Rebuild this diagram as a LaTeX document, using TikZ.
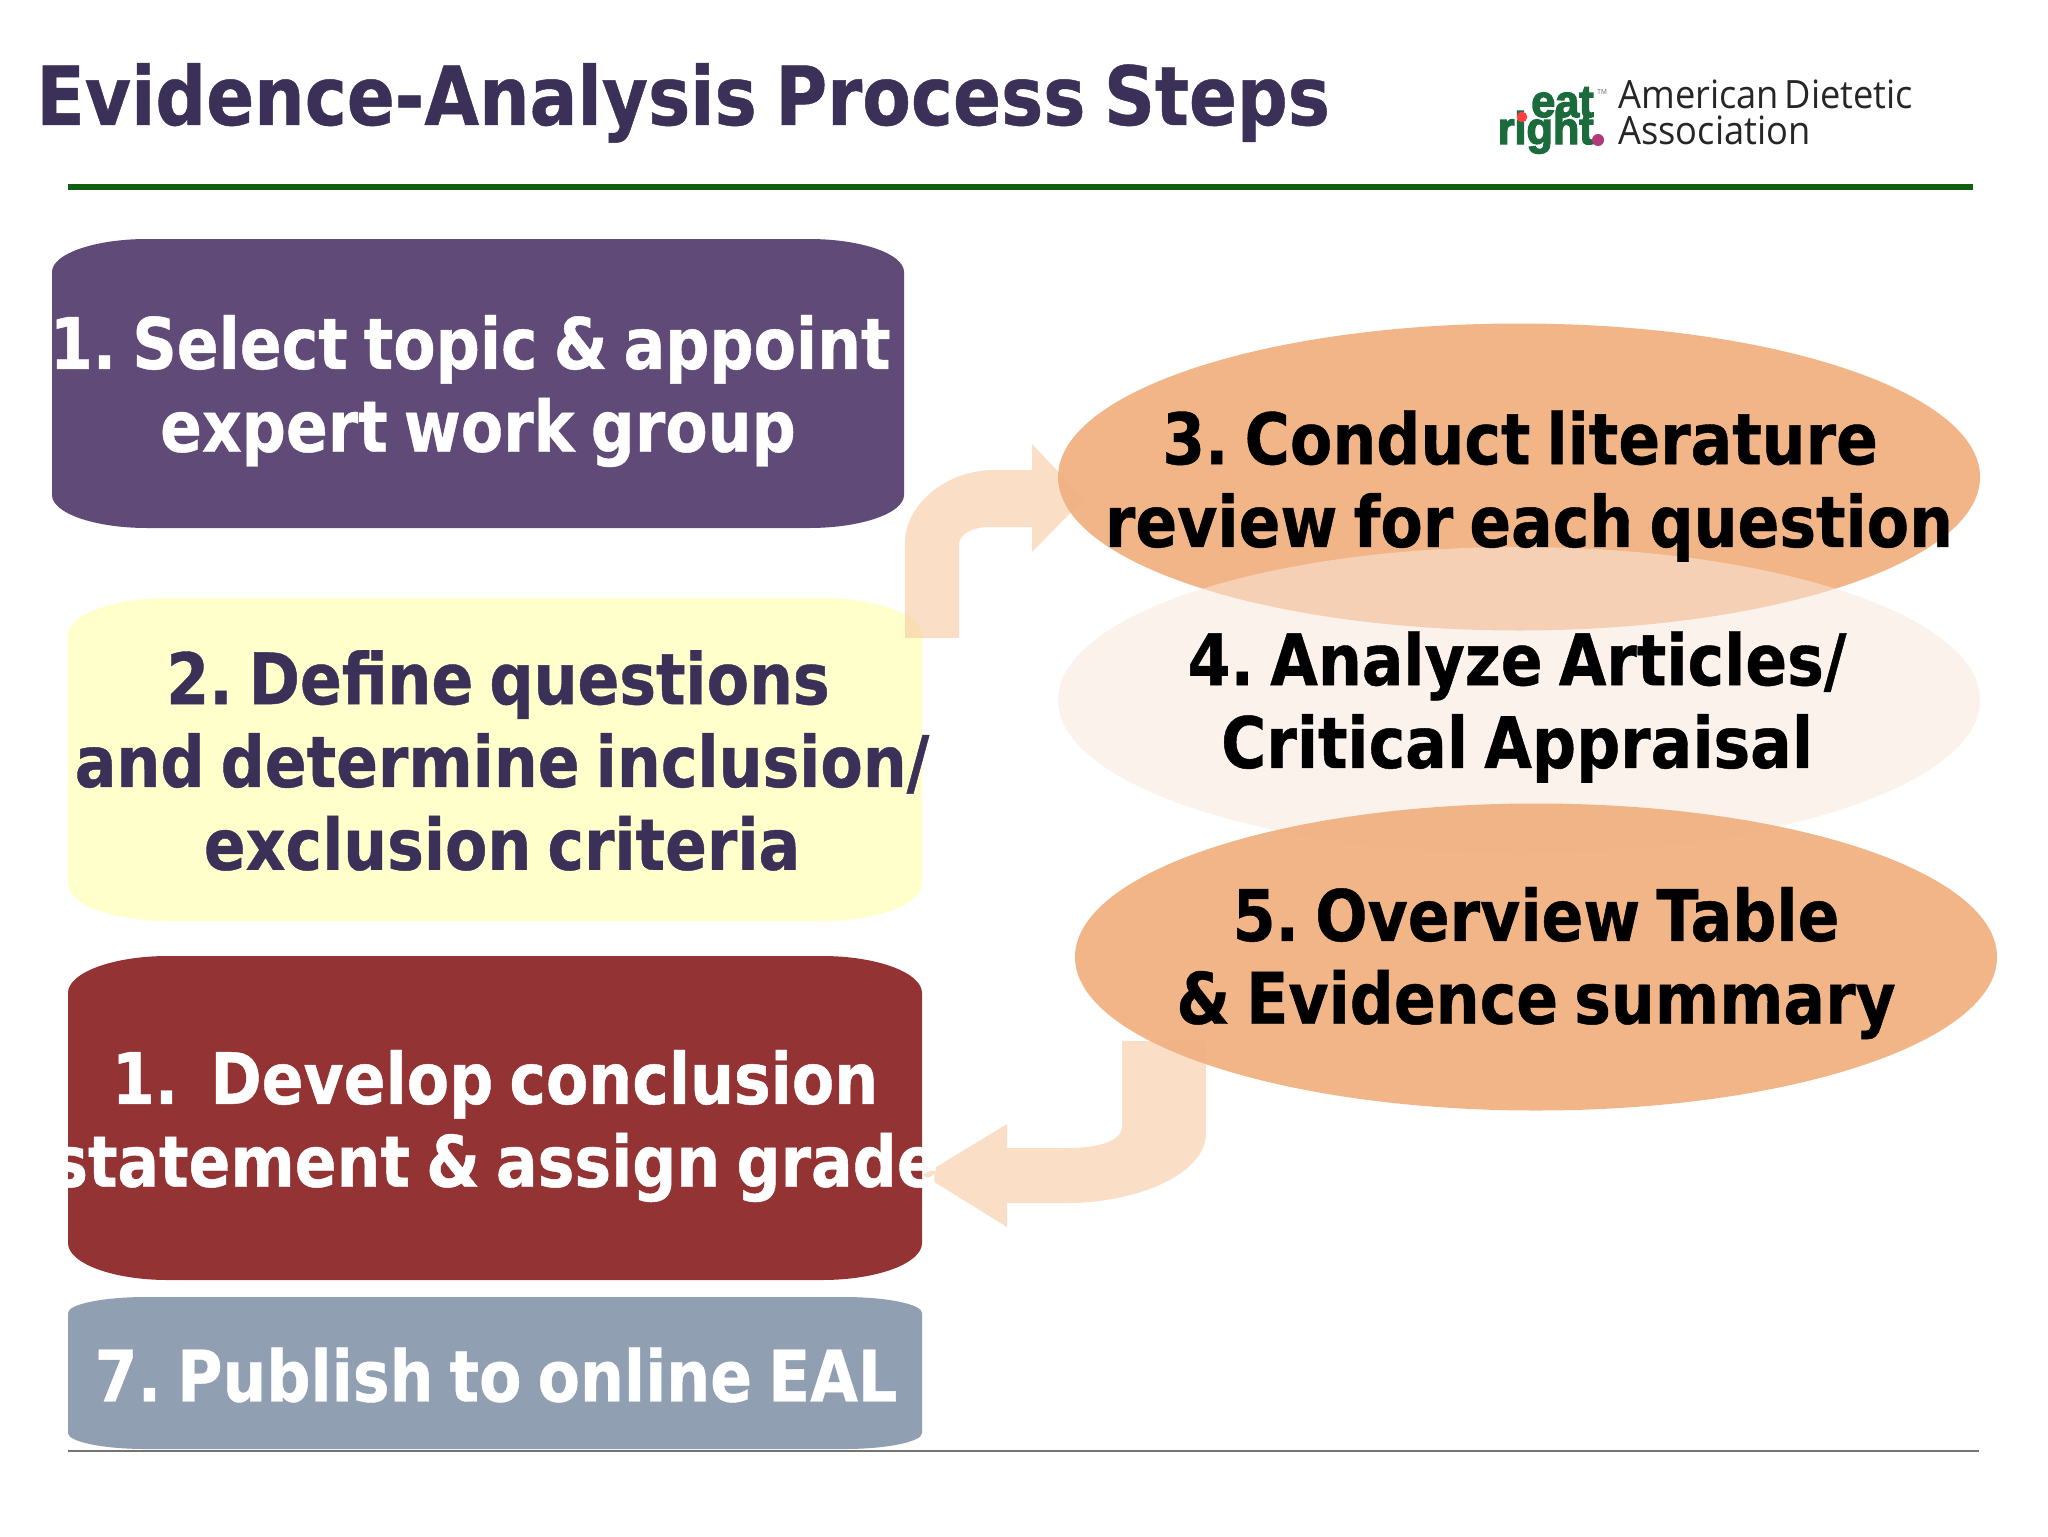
\documentclass[tikz,border=0pt]{standalone}
\usepackage{fontspec}
\setmainfont{DejaVu Sans}[BoldFeatures={FakeStretch=0.869,WordSpace=0.75,FakeBold=0.6}]
\newfontfamily\orgfont{Open Sans}[FakeStretch=0.93,WordSpace=0.6]
\newfontfamily\logofont{Liberation Sans}[BoldFeatures={FakeStretch=0.95,FakeBold=3}]
\frenchspacing
\definecolor{cTitle}{HTML}{3B3158}
\definecolor{cGreen}{HTML}{0F5F0F}
\definecolor{cPurple}{HTML}{5F4A78}
\definecolor{cYellow}{HTML}{FFFFCC}
\definecolor{cRed}{HTML}{943333}
\definecolor{cGrey}{HTML}{919FB2}
\definecolor{cOrange}{HTML}{F1B283}
\definecolor{cPale}{HTML}{FAE7DC}
\definecolor{cArrow}{HTML}{F7C8A0}
\definecolor{cLogo}{HTML}{1B6B3C}
\tikzset{
  steptext/.style={font=\fontsize{35.5}{41.4}\selectfont\bfseries,align=center,inner sep=0pt},
  blockarrow/.style={fill=cArrow,fill opacity=0.6,draw=none},
}
% \ebox{x0}{y0}{x1}{y1}{rx}{ry}{colour}
\newcommand{\ebox}[7]{%
  \pgfmathsetmacro{\kx}{0.55*#5}\pgfmathsetmacro{\ky}{0.55*#6}%
  \fill[#7] ({#1+#5},#2) -- ({#3-#5},#2)
    .. controls ({#3-#5+\kx},#2) and (#3,{#2+#6-\ky}) .. (#3,{#2+#6})
    -- (#3,{#4-#6})
    .. controls (#3,{#4-#6+\ky}) and ({#3-#5+\kx},#4) .. ({#3-#5},#4)
    -- ({#1+#5},#4)
    .. controls ({#1+#5-\kx},#4) and (#1,{#4-#6+\ky}) .. (#1,{#4-#6})
    -- (#1,{#2+#6})
    .. controls (#1,{#2+#6-\ky}) and ({#1+#5-\kx},#2) .. ({#1+#5},#2) -- cycle;}
\begin{document}
\begin{tikzpicture}[x=0.5pt,y=-0.5pt]
\useasboundingbox (0,0) rectangle (2048,1536);
\fill[white] (0,0) rectangle (2048,1536);
% title and rules
\node[anchor=base west,inner sep=0pt,text=cTitle,font=\fontsize{40.8}{48}\selectfont\bfseries] (title) at (36,125) {Evidence-Analysis Process Steps};
\draw[cGreen,line width=3.2pt] (68,187) -- (1973,187);
% logo
\node[anchor=base east,inner sep=0pt,text=cLogo,font=\logofont\fontsize{22.7}{23}\selectfont\bfseries] (eat) at (1594,117) {eat};
\node[anchor=base east,inner sep=0pt,text=cLogo,font=\logofont\fontsize{22.7}{23}\selectfont\bfseries] (right) at (1594,144) {right};
\fill[red!75!white] (1522,117) circle (5.3);
\fill[magenta!70!black] (1598,140) circle (6);
\node[anchor=base west,inner sep=0pt,text=black!60,font=\orgfont\fontsize{3.5}{4}\selectfont] (tm) at (1597,95) {TM};
\node[anchor=base west,inner sep=0pt,text=black!85,font=\orgfont\fontsize{19.5}{20}\selectfont] (ada1) at (1618,109) {American Dietetic};
\node[anchor=base west,inner sep=0pt,text=black!85,font=\orgfont\fontsize{19.5}{20}\selectfont] (ada2) at (1618,144) {Association};
% left boxes
\ebox{52}{239}{904}{528}{95}{33}{cPurple}
\ebox{68}{598}{922}{921}{100}{37}{cYellow}
\ebox{68}{956}{922}{1280}{100}{37}{cRed}
\ebox{68}{1297}{922}{1449}{78}{16}{cGrey}
% block arrows
\fill[blockarrow] (905,638) -- (905,543) .. controls (905,505) and (945,470) .. (995,470)
  -- (1032,470) -- (1032,444) -- (1084,499) -- (1032,552) -- (1032,527) -- (990,527)
  .. controls (970,527) and (959,535) .. (959,545) -- (959,638) -- cycle;
\fill[blockarrow] (1206,1041) -- (1206,1133) .. controls (1206,1175) and (1135,1203) .. (1067,1203)
  -- (1007,1203) -- (1007,1227) -- (923,1175) -- (1007,1124) -- (1007,1148) -- (1070,1148)
  .. controls (1100,1148) and (1122,1140) .. (1122,1127) -- (1122,1041) -- cycle;
\node[steptext,text=white] (s1) at (478,391) {1. Select topic \& appoint\hspace*{7.8pt}\\expert work group};
\node[steptext,text=cTitle] (s2) at (502,760.5) {2. Define questions\hspace*{4pt}\\and determine inclusion/\\exclusion criteria};
\node[steptext,text=white] (s6) at (495,1126) {1.\ \ Develop conclusion\\statement \& assign grade};
\node[steptext,text=white] (s7) at (496,1375) {7. Publish to online EAL};
% ovals
\fill[cOrange,fill opacity=0.96] (1519,477) ellipse (461 and 153.5);
\fill[cPale,fill opacity=0.54] (1519,700) ellipse (461 and 153);
\fill[cOrange,fill opacity=0.96] (1536,957) ellipse (461 and 153.5);
\node[steptext,text=black] (s3) at (1529,486) {3. Conduct literature\hspace*{9pt}\\review for each question};
\node[steptext,text=black] (s4) at (1517,707) {4. Analyze Articles/\\Critical Appraisal};
\node[steptext,text=black] (s5) at (1536,963) {5. Overview Table\\\& Evidence summary};
\draw[black!55,line width=1pt] (68,1451) -- (1979,1451);
\end{tikzpicture}
\end{document}
